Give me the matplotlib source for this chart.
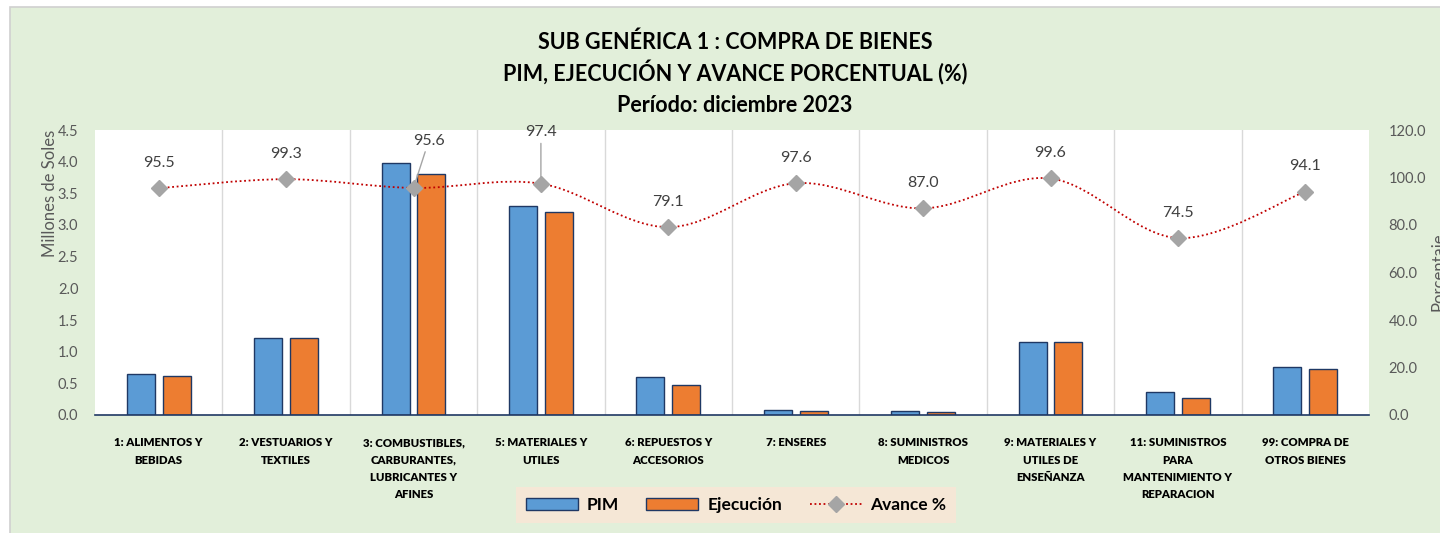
import matplotlib.pyplot as plt
import numpy as np
from matplotlib.patches import Rectangle, PathPatch
from matplotlib.path import Path
from matplotlib.lines import Line2D

categorias = ['1: ALIMENTOS Y\nBEBIDAS', '2: VESTUARIOS Y\nTEXTILES',
              '3: COMBUSTIBLES,\nCARBURANTES,\nLUBRICANTES Y\nAFINES',
              '5: MATERIALES Y\nUTILES', '6: REPUESTOS Y\nACCESORIOS', '7: ENSERES',
              '8: SUMINISTROS\nMEDICOS', '9: MATERIALES Y\nUTILES DE\nENSEÑANZA',
              '11: SUMINISTROS\nPARA\nMANTENIMIENTO Y\nREPARACION',
              '99: COMPRA DE\nOTROS BIENES']
pim = [0.64, 1.22, 3.98, 3.30, 0.60, 0.08, 0.07, 1.15, 0.36, 0.76]
ejecucion = [0.61, 1.21, 3.81, 3.21, 0.47, 0.07, 0.05, 1.15, 0.27, 0.72]
avance = [95.5, 99.3, 95.6, 97.4, 79.1, 97.6, 87.0, 99.6, 74.5, 94.1]

W, H = 1440, 533
FAM = ['Lato', 'DejaVu Sans']
fig = plt.figure(figsize=(14.4, 5.33), dpi=100, facecolor='white')

# green chart area with grey border top/left
fig.patches.append(Rectangle((10 / W, -0.1), 1.2, (H - 7) / H + 0.1, transform=fig.transFigure,
                             facecolor='#E2EFDA', edgecolor='#D0D0D0', lw=1.2, zorder=-10))

ax = fig.add_axes([95 / W, (H - 415) / H, (1369 - 95) / W, (415 - 130) / H])
ax.set_facecolor('white')
x = np.arange(len(categorias))
bw = 0.22
ax.bar(x - 0.14, pim, bw, color='#5B9BD5', edgecolor='#1F3864', lw=1.0, label='PIM', zorder=3)
ax.bar(x + 0.14, ejecucion, bw, color='#ED7D31', edgecolor='#1F3864', lw=1.0, label='Ejecución', zorder=3)
ax.set_xlim(-0.5, len(x) - 0.5)
ax.set_ylim(0, 4.5)
ax.set_yticks(np.arange(0, 4.51, 0.5))
ax.set_yticklabels([f'{v:.1f}' for v in np.arange(0, 4.51, 0.5)], family=FAM)
ax.set_xticks(x)
ax.set_xticklabels(categorias, fontsize=8.2, fontweight='heavy', family=FAM,
                   linespacing=1.7, va='top', color='black')
ax.set_xticks(np.arange(0.5, len(x) - 1, 1), minor=True)
ax.grid(which='minor', axis='x', color='#D9D9D9', lw=1)
ax.tick_params(axis='x', which='both', length=0, pad=16)
ax.tick_params(axis='y', length=0, labelsize=10.5, labelcolor='#595959', pad=12)
for s in ['top', 'left', 'right']:
    ax.spines[s].set_visible(False)
ax.spines['bottom'].set_color('#1F3864')
ax.spines['bottom'].set_linewidth(1.2)
ax.spines['bottom'].set_zorder(4)

ax2 = ax.twinx()
ax2.set_ylim(0, 120)
ax2.set_yticks(np.arange(0, 121, 20))
ax2.set_yticklabels([f'{v:.1f}' for v in np.arange(0, 121, 20)], family=FAM)
ax2.tick_params(axis='y', length=0, labelsize=10.5, labelcolor='#595959', pad=14)
for s in ax2.spines.values():
    s.set_visible(False)

# smoothed dotted line (bezier through the points)
pts = np.column_stack([x, avance]).astype(float)
verts = [pts[0]]
codes = [Path.MOVETO]
for i in range(len(pts) - 1):
    p0 = pts[i - 1] if i > 0 else pts[i]
    p1, p2 = pts[i], pts[i + 1]
    p3 = pts[i + 2] if i + 2 < len(pts) else pts[i + 1]
    verts += [p1 + (p2 - p0) / 6, p2 - (p3 - p1) / 6, p2]
    codes += [Path.CURVE4] * 3
ax2.add_patch(PathPatch(Path(verts, codes), facecolor='none', edgecolor='#C00000',
                        lw=1.3, ls=(0, (1, 1.5)), zorder=4))
ax2.plot(x, avance, ls='none', marker='D', ms=8, color='#A5A5A5', zorder=5)

for i, v in enumerate(avance):
    if i == 2:
        ax2.annotate(f'{v:.1f}', (i, v), xytext=(11, 29), textcoords='offset points', ha='center',
                     va='bottom', fontsize=11.5, color='#404040', family=FAM,
                     arrowprops=dict(arrowstyle='-', color='#A5A5A5', lw=1, shrinkA=1, shrinkB=3))
    elif i == 3:
        ax2.annotate(f'{v:.1f}', (i, v), xytext=(0, 32), textcoords='offset points', ha='center',
                     va='bottom', fontsize=11.5, color='#404040', family=FAM,
                     arrowprops=dict(arrowstyle='-', color='#A5A5A5', lw=1, shrinkA=1, shrinkB=3))
    else:
        ax2.annotate(f'{v:.1f}', (i, v), xytext=(0, 13), textcoords='offset points', ha='center',
                     va='bottom', fontsize=11.5, color='#404040', family=FAM)

# axis titles
fig.text(50 / W, 1 - 193 / H, 'Millones de Soles', rotation=90, ha='center', va='center',
         fontsize=12, color='#595959', family=FAM)
fig.text(1431 / W, 1 - 272 / H, 'Porcentaje', rotation=90, ha='left', va='center',
         fontsize=12, color='#595959', family=FAM)

# title
titulo = ['SUB GENÉRICA 1 : COMPRA DE BIENES',
          'PIM, EJECUCIÓN Y AVANCE PORCENTUAL (%)',
          'Período: diciembre 2023']
for t, yy in zip(titulo, [42, 73, 105]):
    fig.text(735 / W, 1 - yy / H, t, ha='center', va='center', fontsize=15.5, fontweight='bold',
             color='black', family=FAM)

handles = [Rectangle((0, 0), 1, 1, facecolor='#5B9BD5', edgecolor='#1F3864', lw=1.0),
           Rectangle((0, 0), 1, 1, facecolor='#ED7D31', edgecolor='#1F3864', lw=1.0),
           Line2D([], [], color='#C00000', lw=1.3, ls=(0, (1, 1.5)), marker='D', ms=8,
                  markerfacecolor='#A5A5A5', markeredgecolor='#A5A5A5')]
leg = fig.legend(handles, ['PIM', 'Ejecución', 'Avance %'], loc='center', ncol=3,
                 bbox_to_anchor=(736 / W, 1 - 505 / H), frameon=True, fancybox=False,
                 prop={'family': FAM, 'weight': 'bold', 'size': 12.5},
                 handlelength=3.0, handleheight=0.75, columnspacing=1.6, handletextpad=0.5,
                 borderpad=0.55, borderaxespad=0)
leg.get_frame().set_facecolor('#FBE5D6')
leg.get_frame().set_edgecolor('none')

fig.savefig('out.png', dpi=100, facecolor=fig.get_facecolor())
